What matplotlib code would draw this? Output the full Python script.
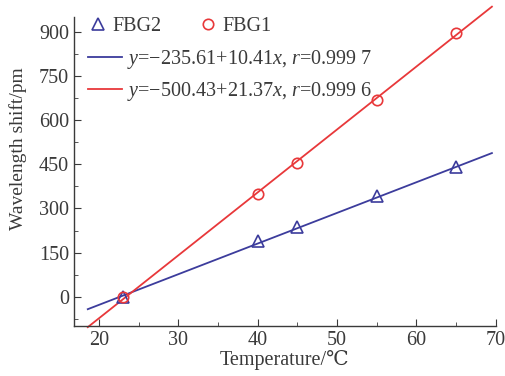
import numpy as np
import matplotlib
matplotlib.use("Agg")
import matplotlib.pyplot as plt
from matplotlib.lines import Line2D
from matplotlib.ticker import MultipleLocator

plt.rcParams["font.family"] = ["Liberation Serif", "DejaVu Serif"]
plt.rcParams["mathtext.fontset"] = "custom"
plt.rcParams["mathtext.it"] = "Liberation Serif:italic"
plt.rcParams["mathtext.rm"] = "Liberation Serif"

temp = [23, 40, 45, 55, 65]
fbg2 = [0, 188, 236, 343, 440]
fbg1 = [0, 349, 455, 668, 897]

fit2 = (-235.61, 10.41)
fit1 = (-500.43, 21.37)
fit_x = [18.6, 69.5]

blue = "#3c3c9c"
red = "#e8383a"
txt = "#3a3a3a"
fs = 14.5

fig = plt.figure(figsize=(5.06, 3.76), dpi=100)
ax = fig.add_axes([0.146, 0.133, 0.834, 0.822])

xf = np.array(fit_x)
ax.plot(xf, fit2[0] + fit2[1] * xf, color=blue, lw=1.3, clip_on=False)
ax.plot(xf, fit1[0] + fit1[1] * xf, color=red, lw=1.3, clip_on=False)
ax.plot(temp, fbg2, ls="none", marker="^", ms=8, mfc="none", mec=blue, mew=1.2, clip_on=False)
ax.plot(temp, fbg1, ls="none", marker="o", ms=7.5, mfc="none", mec=red, mew=1.2, clip_on=False)

ax.set_xlim(16.85, 70)
ax.set_ylim(-99, 950)
ax.xaxis.set_major_locator(MultipleLocator(10))
ax.xaxis.set_minor_locator(MultipleLocator(5))
ax.yaxis.set_major_locator(MultipleLocator(150))
ax.yaxis.set_minor_locator(MultipleLocator(75))
ax.tick_params(which="both", direction="in", colors=txt, labelsize=fs)
ax.tick_params(which="major", length=5)
ax.tick_params(which="minor", length=3)
for s in ["top", "right"]:
    ax.spines[s].set_visible(False)
for s in ["left", "bottom"]:
    ax.spines[s].set_color(txt)
    ax.spines[s].set_linewidth(1.0)

ax.set_xlabel("Temperature/\u2103", fontsize=fs, color=txt, labelpad=0)
ax.set_ylabel("Wavelength shift/pm", fontsize=14, color=txt)
ax.yaxis.set_label_coords(-0.112, 0.575)

h1 = [Line2D([], [], ls="none", marker="^", ms=8, mfc="none", mec=blue, mew=1.2),
      Line2D([], [], ls="none", marker="o", ms=7.5, mfc="none", mec=red, mew=1.2)]
leg1 = ax.legend(h1, ["FBG2", "FBG1"], ncol=2, loc="upper left", frameon=False,
                 bbox_to_anchor=(0.02, 1.025), handlelength=0.8, handletextpad=0.3,
                 columnspacing=1.9, fontsize=fs, labelcolor=txt, borderaxespad=0)
ax.add_artist(leg1)
h2 = [Line2D([], [], color=blue, lw=1.3), Line2D([], [], color=red, lw=1.3)]
lab2 = [r"$y$=" + "\u2212" + r"235.61+10.41$x$, $r$=0.999 7",
        r"$y$=" + "\u2212" + r"500.43+21.37$x$, $r$=0.999 6"]
ax.legend(h2, lab2, loc="upper left", frameon=False, bbox_to_anchor=(0.015, 0.925),
          handlelength=1.7, handletextpad=0.2, labelspacing=0.45, fontsize=fs,
          labelcolor=txt, borderaxespad=0)

fig.savefig("out.png", dpi=100)
